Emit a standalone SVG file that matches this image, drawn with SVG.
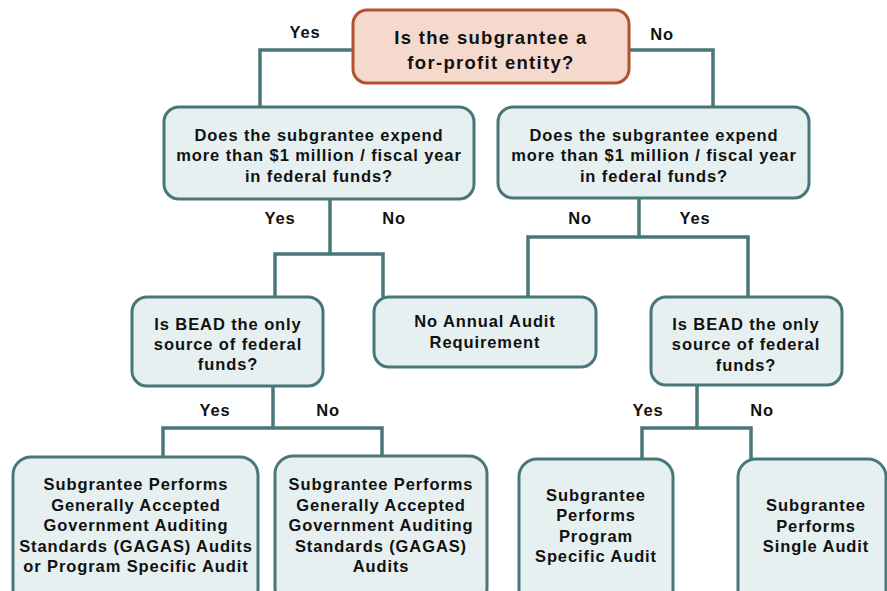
<svg xmlns="http://www.w3.org/2000/svg" width="887" height="591" viewBox="0 0 887 591">
<style>
.box{fill:#e6f0f0;stroke:#487779;stroke-width:3}
.top{fill:#f6d9cd;stroke:#b4522f;stroke-width:3}
.t{font-family:"Liberation Sans",Arial,sans-serif;font-weight:bold;font-size:16.5px;letter-spacing:0.9px;fill:#111;text-anchor:middle}
.tt{font-size:18.5px;letter-spacing:1.3px}
.lbl{font-family:"Liberation Sans",Arial,sans-serif;font-weight:bold;font-size:16.5px;letter-spacing:0.8px;fill:#111;text-anchor:middle}
.c{fill:none;stroke:#487779;stroke-width:3.5}
</style>
<rect width="887" height="591" fill="#fff"/>
<g id="connectors">
<polyline class="c" points="353,50 260,50 260,107"/>
<polyline class="c" points="630,50 713,50 713,107"/>
<polyline class="c" points="330,199 330,254"/>
<polyline class="c" points="275,297 275,254 383,254 383,297"/>
<polyline class="c" points="639,198 639,237"/>
<polyline class="c" points="528,297 528,237 748,237 748,297"/>
<polyline class="c" points="273,386 273,428"/>
<polyline class="c" points="163,457 163,428 382,428 382,457"/>
<polyline class="c" points="697,385 697,428"/>
<polyline class="c" points="642,459 642,428 751,428 751,459"/>
</g>
<g id="labels">
<text class="lbl" x="305" y="38">Yes</text>
<text class="lbl" x="662" y="40">No</text>
<text class="lbl" x="280" y="224">Yes</text>
<text class="lbl" x="394" y="224">No</text>
<text class="lbl" x="580" y="224">No</text>
<text class="lbl" x="695" y="224">Yes</text>
<text class="lbl" x="215" y="416">Yes</text>
<text class="lbl" x="328" y="416">No</text>
<text class="lbl" x="648" y="416">Yes</text>
<text class="lbl" x="762" y="416">No</text>
</g>
<g id="n0">
<rect class="top" x="353" y="10" width="276" height="73" rx="14"/>
<text class="t tt" x="491" y="44">Is the subgrantee a</text>
<text class="t tt" x="491" y="69">for-profit entity?</text>
</g>
<g id="n1">
<rect class="box" x="164" y="107" width="310" height="92" rx="15"/>
<text class="t" x="319" y="141">Does the subgrantee expend</text>
<text class="t" x="319" y="161">more than $1 million / fiscal year</text>
<text class="t" x="319" y="182">in federal funds?</text>
</g>
<g id="n2">
<rect class="box" x="498" y="107" width="311" height="91" rx="15"/>
<text class="t" x="654" y="141">Does the subgrantee expend</text>
<text class="t" x="654" y="161">more than $1 million / fiscal year</text>
<text class="t" x="654" y="182">in federal funds?</text>
</g>
<g id="n3">
<rect class="box" x="132" y="297" width="191" height="89" rx="15"/>
<text class="t" x="228" y="330">Is BEAD the only</text>
<text class="t" x="228" y="350">source of federal</text>
<text class="t" x="228" y="370">funds?</text>
</g>
<g id="n4">
<rect class="box" x="374" y="297" width="222" height="70" rx="15"/>
<text class="t" x="485" y="327">No Annual Audit</text>
<text class="t" x="485" y="348">Requirement</text>
</g>
<g id="n5">
<rect class="box" x="651" y="297" width="191" height="88" rx="15"/>
<text class="t" x="746" y="330">Is BEAD the only</text>
<text class="t" x="746" y="350">source of federal</text>
<text class="t" x="746" y="371">funds?</text>
</g>
<g id="n6">
<rect class="box" x="13" y="457" width="245" height="150" rx="18"/>
<text class="t" x="136" y="490">Subgrantee Performs</text>
<text class="t" x="136" y="511">Generally Accepted</text>
<text class="t" x="136" y="531">Government Auditing</text>
<text class="t" x="136" y="552">Standards (GAGAS) Audits</text>
<text class="t" x="136" y="572">or Program Specific Audit</text>
</g>
<g id="n7">
<rect class="box" x="275" y="456" width="212" height="150" rx="18"/>
<text class="t" x="381" y="490">Subgrantee Performs</text>
<text class="t" x="381" y="511">Generally Accepted</text>
<text class="t" x="381" y="531">Government Auditing</text>
<text class="t" x="381" y="552">Standards (GAGAS)</text>
<text class="t" x="381" y="572">Audits</text>
</g>
<g id="n8">
<rect class="box" x="519" y="459" width="154" height="150" rx="18"/>
<text class="t" x="596" y="501">Subgrantee</text>
<text class="t" x="596" y="521">Performs</text>
<text class="t" x="596" y="542">Program</text>
<text class="t" x="596" y="562">Specific Audit</text>
</g>
<g id="n9">
<rect class="box" x="738" y="459" width="148" height="150" rx="18"/>
<text class="t" x="816" y="511">Subgrantee</text>
<text class="t" x="816" y="532">Performs</text>
<text class="t" x="816" y="552">Single Audit</text>
</g>
</svg>
